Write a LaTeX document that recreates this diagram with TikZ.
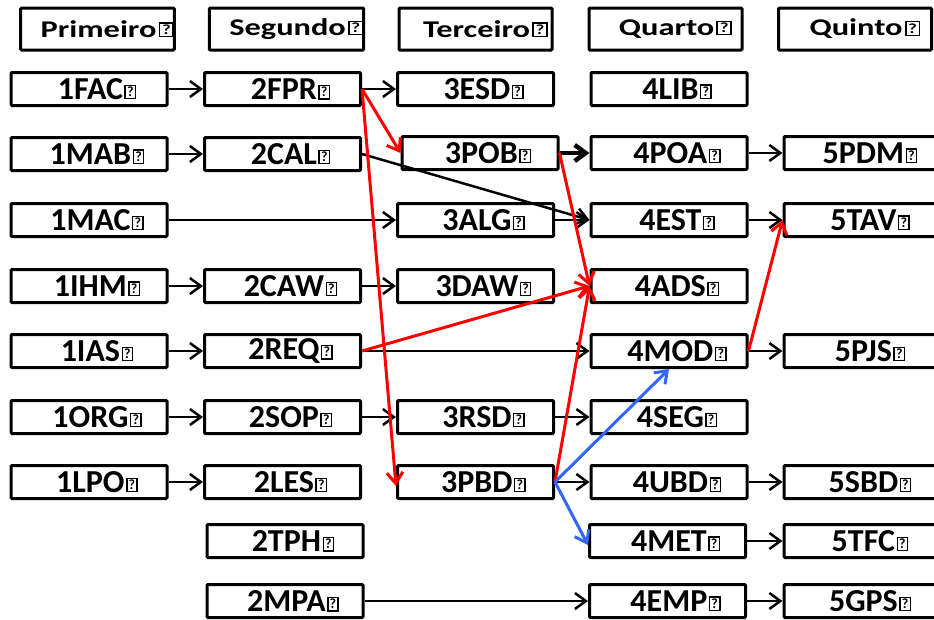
\documentclass[tikz,border=0pt]{standalone}
\usepackage{fontspec}
\setmainfont{Carlito}
\usepackage{graphicx}
\usepackage{xcolor}
\usepackage{tikz}
\usetikzlibrary{arrows.meta}

\definecolor{azul}{RGB}{51,102,255}
% caixinha do caractere em falta
\newcommand{\qm}{\kern1.5pt\raisebox{2.6pt}{\setlength{\fboxsep}{1.2pt}\setlength{\fboxrule}{1.4pt}\fbox{\fontsize{14}{14}\selectfont ?}}}
\newcommand{\hd}[1]{\hspace*{20pt}\scalebox{1.35}[1]{\fontsize{24}{24}\selectfont #1\qm}}
\newcommand{\dd}[1]{\hspace*{16pt}#1\qm}

\begin{document}
\begin{tikzpicture}[x=1pt, y=-1pt, >={Straight Barb[length=11pt,width=16pt]},
    titulo/.style={draw, line width=3pt, rounded corners=1pt, minimum width=153pt, minimum height=42pt, inner sep=0pt, font=\bfseries},
    disc/.style={draw, line width=3pt, rounded corners=1pt, minimum width=156pt, minimum height=33pt, inner sep=0pt, font=\bfseries\fontsize{32}{32}\selectfont},
    liga/.style={->, line width=2.5pt},
    prereq/.style={->, red, line width=3pt},
    opcao/.style={->, azul, line width=3pt}]
    \useasboundingbox (0,0) rectangle (934,619);

    % 1. Cabeçalhos dos semestres
    \node[titulo] (h1) at (97.5,29) {\hd{Primeiro}};
    \node[titulo] (h2) at (286.5,29) {\hd{Segundo}};
    \node[titulo] (h3) at (475.5,29) {\hd{Terceiro}};
    \node[titulo] (h4) at (665.5,29) {\hd{Quarto}};
    \node[titulo] (h5) at (855,29) {\hd{Quinto}};

    % 2. Disciplinas do primeiro e segundo semestres
    \node[disc] (fac) at (89,89) {\dd{1FAC}};
    \node[disc] (mab) at (89,154) {\dd{1MAB}};
    \node[disc] (mac) at (89,220) {\dd{1MAC}};
    \node[disc] (ihm) at (89,286) {\dd{1IHM}};
    \node[disc] (ias) at (89,351) {\dd{1IAS}};
    \node[disc] (org) at (89,417) {\dd{1ORG}};
    \node[disc] (lpo) at (89,482) {\dd{1LPO}};

    \node[disc] (fpr) at (282.5,89) {\dd{2FPR}};
    \node[disc] (cal) at (282.5,154) {\dd{2CAL}};
    \node[disc] (caw) at (282.5,286) {\dd{2CAW}};
    \node[disc] (req) at (282.5,351) {\dd{2REQ}};
    \node[disc] (sop) at (282.5,417) {\dd{2SOP}};
    \node[disc] (les) at (282.5,482) {\dd{2LES}};
    \node[disc] (tph) at (285,541) {\dd{2TPH}};
    \node[disc] (mpa) at (285,601) {\dd{2MPA}};

    % 3. Terceiro semestre
    \node[disc] (esd) at (475.5,89) {\dd{3ESD}};
    \node[disc] (pob) at (480,153) {\dd{3POB}};
    \node[disc] (alg) at (475.5,220) {\dd{3ALG}};
    \node[disc] (daw) at (475.5,286) {\dd{3DAW}};
    \node[disc] (rsd) at (475.5,417) {\dd{3RSD}};
    \node[disc] (pbd) at (475.5,482) {\dd{3PBD}};

    % 4. Quarto e quinto semestres
    \node[disc] (lib) at (669,89) {\dd{4LIB}};
    \node[disc] (poa) at (669,153) {\dd{4POA}};
    \node[disc] (est) at (669,220) {\dd{4EST}};
    \node[disc] (ads) at (669,286) {\dd{4ADS}};
    \node[disc] (mod) at (669,351) {\dd{4MOD}};
    \node[disc] (seg) at (669,417) {\dd{4SEG}};
    \node[disc] (ubd) at (669,482) {\dd{4UBD}};
    \node[disc] (met) at (667.5,541) {\dd{4MET}};
    \node[disc] (emp) at (667.5,601) {\dd{4EMP}};

    \node[disc] (pdm) at (862,153) {\dd{5PDM}};
    \node[disc] (tav) at (862,220) {\dd{5TAV}};
    \node[disc] (pjs) at (862,351) {\dd{5PJS}};
    \node[disc] (sbd) at (862,482) {\dd{5SBD}};
    \node[disc] (tfc) at (862,541) {\dd{5TFC}};
    \node[disc] (gps) at (862,601) {\dd{5GPS}};

    % 5. Ligações pretas
    \draw[liga] (fac) -- (fpr);
    \draw[liga] (fpr) -- (esd);
    \draw[liga] (mab) -- (cal);
    \draw[liga] (cal.east) -- (est.west);
    \draw[liga] (mac) -- (alg);
    \draw[liga] (alg) -- (est);
    \draw[liga, line width=4.5pt] (pob) -- (poa);
    \draw[liga] (poa.east) -- (pdm.west);
    \draw[liga] (est.east) -- (tav.west);
    \draw[liga] (ihm) -- (caw);
    \draw[liga] (caw) -- (daw);
    \draw[liga] (ias) -- (req);
    \draw[liga] (req.east) -- (mod.west);
    \draw[liga] (mod.east) -- (pjs.west);
    \draw[liga] (org) -- (sop);
    \draw[liga] (sop) -- (rsd);
    \draw[liga] (rsd) -- (seg);
    \draw[liga] (lpo) -- (les);
    \draw[liga] (pbd) -- (ubd);
    \draw[liga] (ubd.east) -- (sbd.west);
    \draw[liga] (met.east) -- (tfc.west);
    \draw[liga] (mpa.east) -- (emp.west);
    \draw[liga] (emp.east) -- (gps.west);

    % 6. Ligações vermelhas
    \draw[prereq] (fpr.east) -- (pob.west);
    \draw[prereq] (fpr.east) -- ([yshift=-4pt]pbd.west);
    \draw[prereq] (pob.east) -- (ads.west);
    \draw[prereq] (req.east) -- (ads.west);
    \draw[prereq] (pbd.east) -- (ads.west);
    \draw[prereq] (mod.east) -- (tav.west);

    % 7. Ligações azuis
    \draw[opcao] (pbd.east) -- (mod.south);
    \draw[opcao] (pbd.east) -- ([yshift=-4pt]met.west);

\end{tikzpicture}
\end{document}
